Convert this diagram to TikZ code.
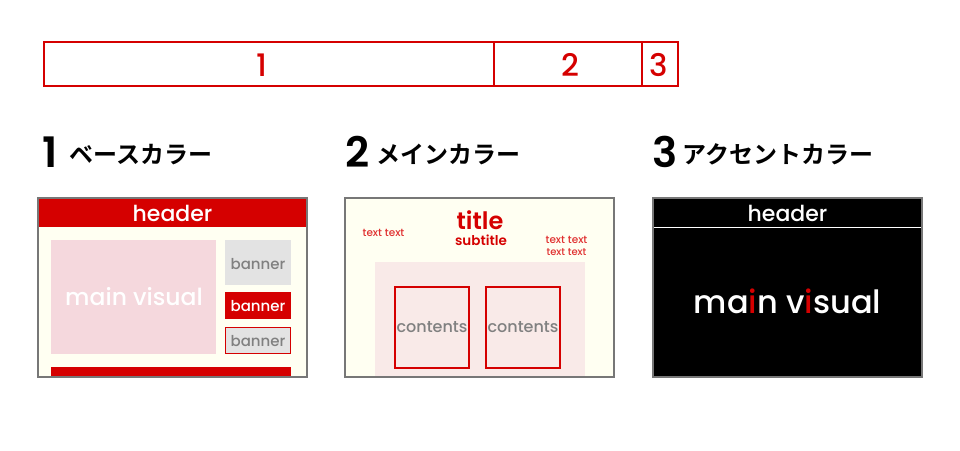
\documentclass[tikz,border=0pt]{standalone}
\usepackage{fontspec}
\setmainfont{Poppins}[UprightFont={* Medium}]
\newfontfamily\numfont{Poppins}[UprightFont={* SemiBold}]
\newfontfamily\jpfont{Noto Sans CJK JP}[UprightFont={* Bold}]
\definecolor{accent}{HTML}{D50000}
\definecolor{softred}{HTML}{E03030}
\definecolor{frame}{HTML}{777777}
\definecolor{cream}{HTML}{FFFFF2}
\definecolor{visual}{HTML}{F5D8DD}
\definecolor{area}{HTML}{F9EAE8}
\definecolor{greybox}{HTML}{E3E3E3}
\definecolor{greytext}{HTML}{808080}
\newcommand{\fs}[1]{\fontsize{#1}{#1}\selectfont}

\begin{document}
\begin{tikzpicture}[x=1pt,y=-1pt,
  lbl/.style={inner sep=0pt},
  panel/.style={draw=frame, line width=1.3pt},
  heading/.style={lbl, anchor=base west}]
\useasboundingbox (0,0) rectangle (960,450);

% ratio bar
\draw[accent, line width=1.2pt] (44,42) rectangle (678,86);
\draw[accent, line width=1.2pt] (494,42) -- (494,86);
\draw[accent, line width=1.2pt] (642,42) -- (642,86);
\node[lbl, text=accent] (r1) at (262,65) {\fs{31}1};
\node[lbl, text=accent] (r2) at (570,65) {\fs{31}2};
\node[lbl, text=accent] (r3) at (659,65) {\fs{31}3};

% headings
\node[heading] (h1) at (42,167) {\numfont\fs{42}1};
\node[heading] (t1) at (69,163) {\jpfont\fs{24}ベースカラー};
\node[heading] (h2) at (345,167) {\numfont\fs{42}2};
\node[heading] (t2) at (376,163) {\jpfont\fs{24}メインカラー};
\node[heading] (h3) at (652,167) {\numfont\fs{42}3};
\node[heading] (t3) at (682,163) {\jpfont\fs{24}アクセントカラー};

% panel 1: base colour
\fill[cream] (38,198) rectangle (307,377);
\fill[accent] (38,198) rectangle (307,227);
\node[lbl, text=white] (hd1) at (172.5,213) {\fs{22}header};
\fill[visual] (51,240) rectangle (216,354);
\node[lbl, text=white] (mv1) at (134,297) {\fs{23.5}main visual};
\fill[greybox] (225,240) rectangle (291,285);
\node[lbl, text=greytext] (b1) at (258,264) {\fs{15}banner};
\fill[accent] (225,292) rectangle (291,319);
\node[lbl, text=white] (b2) at (258,306) {\fs{15}banner};
\draw[accent, fill=greybox, line width=1.3pt] (225.5,327.5) rectangle (290.5,353.5);
\node[lbl, text=greytext] (b3) at (258,341) {\fs{15}banner};
\fill[accent] (51,367) rectangle (291,377);
\draw[panel] (38,198) rectangle (307,377);

% panel 2: main colour
\fill[cream] (345,198) rectangle (614,377);
\node[lbl, text=accent] (tt) at (480,220) {\numfont\fs{24}title};
\node[lbl, text=accent] (st) at (481,240.5) {\numfont\fs{13.5}subtitle};
\node[lbl, text=softred] (tx1) at (383.5,233) {\fs{10.5}text text};
\node[lbl, text=softred, align=center] (tx2) at (566.5,246)
  {\fontsize{10.5}{9}\selectfont text text\\text text};
\fill[area] (375,262) rectangle (585,377);
\draw[accent, line width=1.2pt] (395,287) rectangle (469,368);
\node[lbl, text=greytext] (c1) at (432,327) {\fs{16}contents};
\draw[accent, line width=1.2pt] (486,287) rectangle (560,368);
\node[lbl, text=greytext] (c2) at (523,327) {\fs{16}contents};
\draw[panel] (345,198) rectangle (614,377);

% panel 3: accent colour
\fill[black] (653,198) rectangle (922,377);
\draw[white, line width=1pt] (653,227.5) -- (922,227.5);
\node[lbl, text=white] (hd3) at (787.5,213) {\fs{22}header};
\node[lbl, text=white] (mv3) at (787.5,301)
  {\fs{32}ma{\color{accent}i}n v{\color{accent}i}sual};
\draw[panel] (653,198) rectangle (922,377);
\end{tikzpicture}
\end{document}
